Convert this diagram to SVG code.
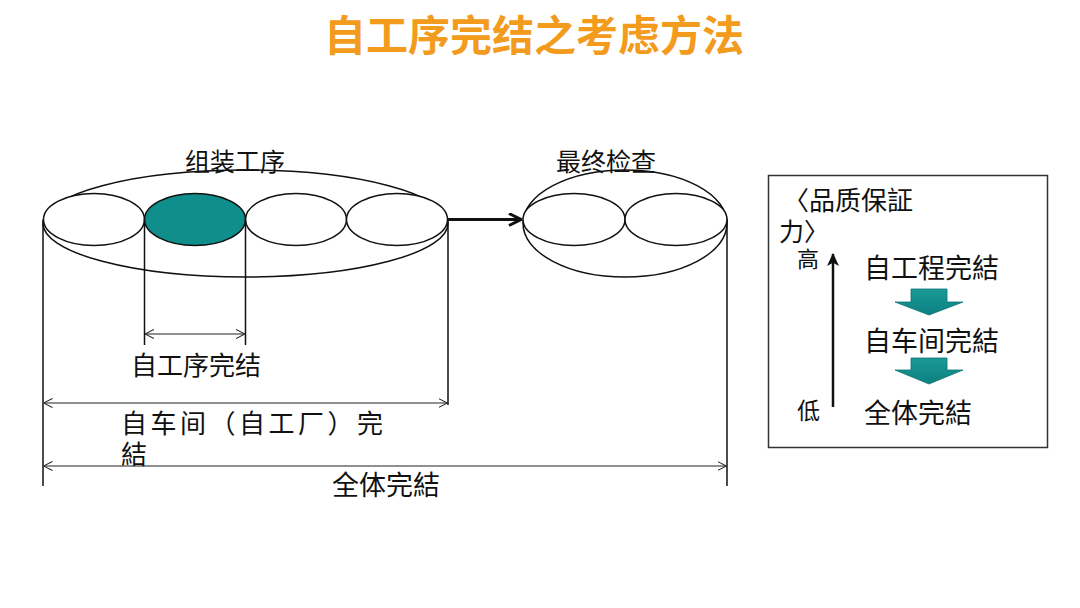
<svg xmlns="http://www.w3.org/2000/svg" width="1080" height="608" viewBox="0 0 1080 608">
<defs>
<style>
.cjk{font-family:"Noto Sans CJK SC","Noto Sans CJK JP",sans-serif;fill:#111;}
.ell{fill:#fff;stroke:#111;stroke-width:1.5;}
.big{fill:none;stroke:#111;stroke-width:1.5;}
.vl{stroke:#111;stroke-width:1.5;fill:none;}
.dim{stroke:#222;stroke-width:1.2;fill:none;marker-start:url(#chev);marker-end:url(#chev);}
</style>
<marker id="chev" viewBox="0 0 10 10" refX="10" refY="5" markerWidth="9" markerHeight="10" markerUnits="userSpaceOnUse" orient="auto-start-reverse">
<path d="M0,0 L10,5 L0,10" fill="none" stroke="#222" stroke-width="1.2"/>
</marker>
<marker id="thick" viewBox="0 0 14 14" refX="13" refY="7" markerWidth="14" markerHeight="14" markerUnits="userSpaceOnUse" orient="auto">
<path d="M1,1 L13,7 L1,13" fill="none" stroke="#111" stroke-width="3" stroke-linejoin="miter"/>
</marker>
<marker id="solid" viewBox="0 0 12 12" refX="11" refY="6" markerWidth="13" markerHeight="13" markerUnits="userSpaceOnUse" orient="auto">
<path d="M0,0.5 L12,6 L0,11.5 L3,6 Z" fill="#111"/>
</marker>
<linearGradient id="teal" x1="0" y1="0" x2="0" y2="1">
<stop offset="0" stop-color="#1a9a98"/>
<stop offset="1" stop-color="#0c8080"/>
</linearGradient>
</defs>

<rect width="1080" height="608" fill="#fff"/>

<g id="title">
<text class="cjk" x="534" y="51" font-size="42" font-weight="bold" text-anchor="middle" style="fill:#F29B1C">自工序完结之考虑方法</text>
</g>

<g id="assembly">
<ellipse class="big" cx="245.5" cy="223.5" rx="202.5" ry="53.5"/>
<ellipse class="ell" cx="94" cy="219.5" rx="50.5" ry="26"/>
<ellipse class="ell" cx="195" cy="219.5" rx="50.5" ry="26" style="fill:#0F8E8C"/>
<ellipse class="ell" cx="296" cy="219.5" rx="50.5" ry="26"/>
<ellipse class="ell" cx="397" cy="219.5" rx="50.5" ry="26"/>
<text class="cjk" x="235" y="171" font-size="25" text-anchor="middle">组装工序</text>
</g>

<g id="final-inspection">
<ellipse class="big" cx="625" cy="223.5" rx="102" ry="53.5"/>
<ellipse class="ell" cx="574" cy="219.5" rx="51" ry="26"/>
<ellipse class="ell" cx="676" cy="219.5" rx="51" ry="26"/>
<text class="cjk" x="606" y="171" font-size="25" text-anchor="middle">最终检查</text>
</g>

<g id="connectors">
<line x1="448" y1="219.5" x2="521" y2="219.5" stroke="#111" stroke-width="3" marker-end="url(#thick)"/>
<line class="vl" x1="43" y1="219.5" x2="43" y2="486"/>
<line class="vl" x1="144.5" y1="219.5" x2="144.5" y2="345"/>
<line class="vl" x1="245.5" y1="219.5" x2="245.5" y2="345"/>
<line class="vl" x1="448" y1="219.5" x2="448" y2="405"/>
<line class="vl" x1="727" y1="219.5" x2="727" y2="486"/>
<line class="dim" x1="145" y1="334" x2="245" y2="334"/>
<line class="dim" x1="43.5" y1="403" x2="447.5" y2="403"/>
<line class="dim" x1="43.5" y1="466" x2="726.5" y2="466"/>
</g>

<g id="label-self-process">
<text class="cjk" x="131" y="375" font-size="26">自工序完结</text>
</g>
<g id="label-workshop">
<text class="cjk" x="121" y="433" font-size="26" letter-spacing="3.5">自车间（自工厂）完</text>
<text class="cjk" x="121" y="464" font-size="26">結</text>
</g>
<g id="label-total">
<text class="cjk" x="332" y="495" font-size="27">全体完結</text>
</g>

<g id="legend">
<rect x="768.5" y="175.5" width="279" height="272" fill="#fff" stroke="#333" stroke-width="1.5"/>
<text class="cjk" x="783" y="210" font-size="26">〈品质保証</text>
<text class="cjk" x="779" y="241" font-size="25">力〉</text>
<text class="cjk" x="797" y="267" font-size="22">高</text>
<text class="cjk" x="797" y="419" font-size="23">低</text>
<line x1="833" y1="407" x2="833" y2="254" stroke="#111" stroke-width="2.5" marker-end="url(#solid)"/>
<text class="cjk" x="864" y="278" font-size="27">自工程完結</text>
<text class="cjk" x="864" y="351" font-size="27">自车间完結</text>
<text class="cjk" x="864" y="423" font-size="27">全体完結</text>
<path d="M911,289 H947 V302 H963 L929,315 L895,302 H911 Z" fill="url(#teal)" stroke="#0b7575" stroke-width="0.8"/>
<path d="M911,358 H947 V370 H963 L929,384 L895,370 H911 Z" fill="url(#teal)" stroke="#0b7575" stroke-width="0.8"/>
</g>
</svg>
